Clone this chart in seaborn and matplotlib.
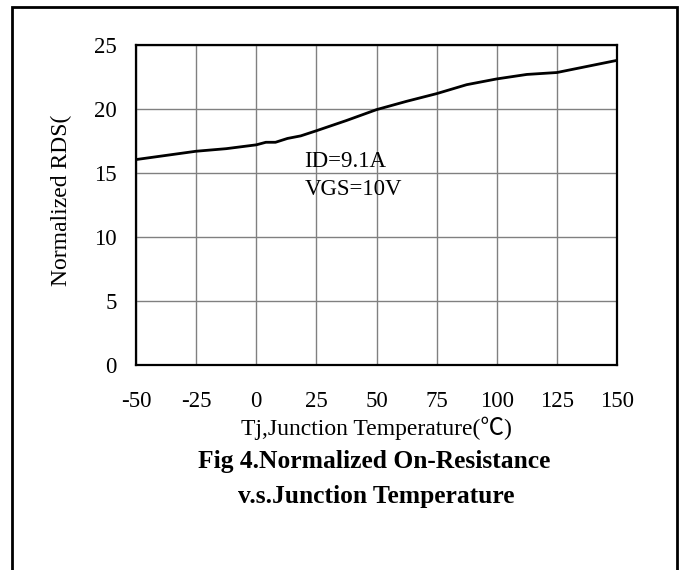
import matplotlib
matplotlib.use("Agg")
import matplotlib.pyplot as plt
import matplotlib.patches as mpatches
import seaborn as sns
import pandas as pd

# Data
temperature = [-50, -25, -12.5, 0, 4, 8, 13, 18.5, 25, 37.5, 50, 62.5, 75, 87.5, 100, 112.5, 125, 150]
rds_norm = [16.05, 16.7, 16.9, 17.2, 17.4, 17.4, 17.7, 17.9, 18.3, 19.1, 19.95, 20.6, 21.2, 21.9, 22.35, 22.7, 22.85, 23.8]
x_ticks = [-50, -25, 0, 25, 50, 75, 100, 125, 150]
y_ticks = [0, 5, 10, 15, 20, 25]
annotations = ["ID=9.1A", "VGS=10V"]
x_label = "Tj,Junction Temperature(\u2103)"
y_label = "Normalized RDS("
title_lines = ["Fig 4.Normalized On-Resistance", "v.s.Junction Temperature"]

sns.set_theme(style="white")
plt.rcParams["font.family"] = ["Liberation Serif", "Noto Sans CJK SC", "DejaVu Sans"]

W, H = 683, 570
fig = plt.figure(figsize=(W / 100, H / 100), dpi=100)
ax = fig.add_axes([136 / W, 1 - 365 / H, (617 - 136) / W, (365 - 45) / H])

df = pd.DataFrame({"T": temperature, "R": rds_norm})
sns.lineplot(data=df, x="T", y="R", ax=ax, color="black", linewidth=2.0, zorder=3)

ax.set_xlim(-50, 150)
ax.set_ylim(0, 25)
ax.set_xticks(x_ticks)
ax.set_yticks(y_ticks)
ax.set_xticklabels([str(v) for v in x_ticks], fontsize=16.5)
ax.set_yticklabels([str(v) for v in y_ticks], fontsize=16.5)
ax.tick_params(axis="both", length=0, colors="black")
ax.tick_params(axis="x", pad=19)
ax.tick_params(axis="y", pad=14)
ax.grid(True, color="#808080", linewidth=1.0)
for s in ax.spines.values():
    s.set_color("black")
    s.set_linewidth(1.6)
    s.set_visible(True)
ax.set_xlabel(x_label, fontsize=17, color="black", labelpad=3)
ax.set_ylabel(y_label, fontsize=17, color="black")
ax.yaxis.set_label_coords(-0.133, 0.515)

ax.text(20, 15.9, annotations[0], fontsize=16.5, va="center", ha="left", color="black")
ax.text(20, 13.7, annotations[1], fontsize=16.5, va="center", ha="left", color="black")

fig.text(374 / W, 1 - 468 / H, title_lines[0], fontsize=18.4, fontweight="bold",
         ha="center", va="baseline", color="black")
fig.text(376 / W, 1 - 503 / H, title_lines[1], fontsize=18.4, fontweight="bold",
         ha="center", va="baseline", color="black")

frame = mpatches.Rectangle((12 / W, -0.05), (677 - 12) / W, (1 - 7 / H) + 0.05,
                           transform=fig.transFigure, fill=False,
                           edgecolor="black", linewidth=2.0, clip_on=False)
fig.patches.append(frame)

fig.savefig("out.png", dpi=100)
